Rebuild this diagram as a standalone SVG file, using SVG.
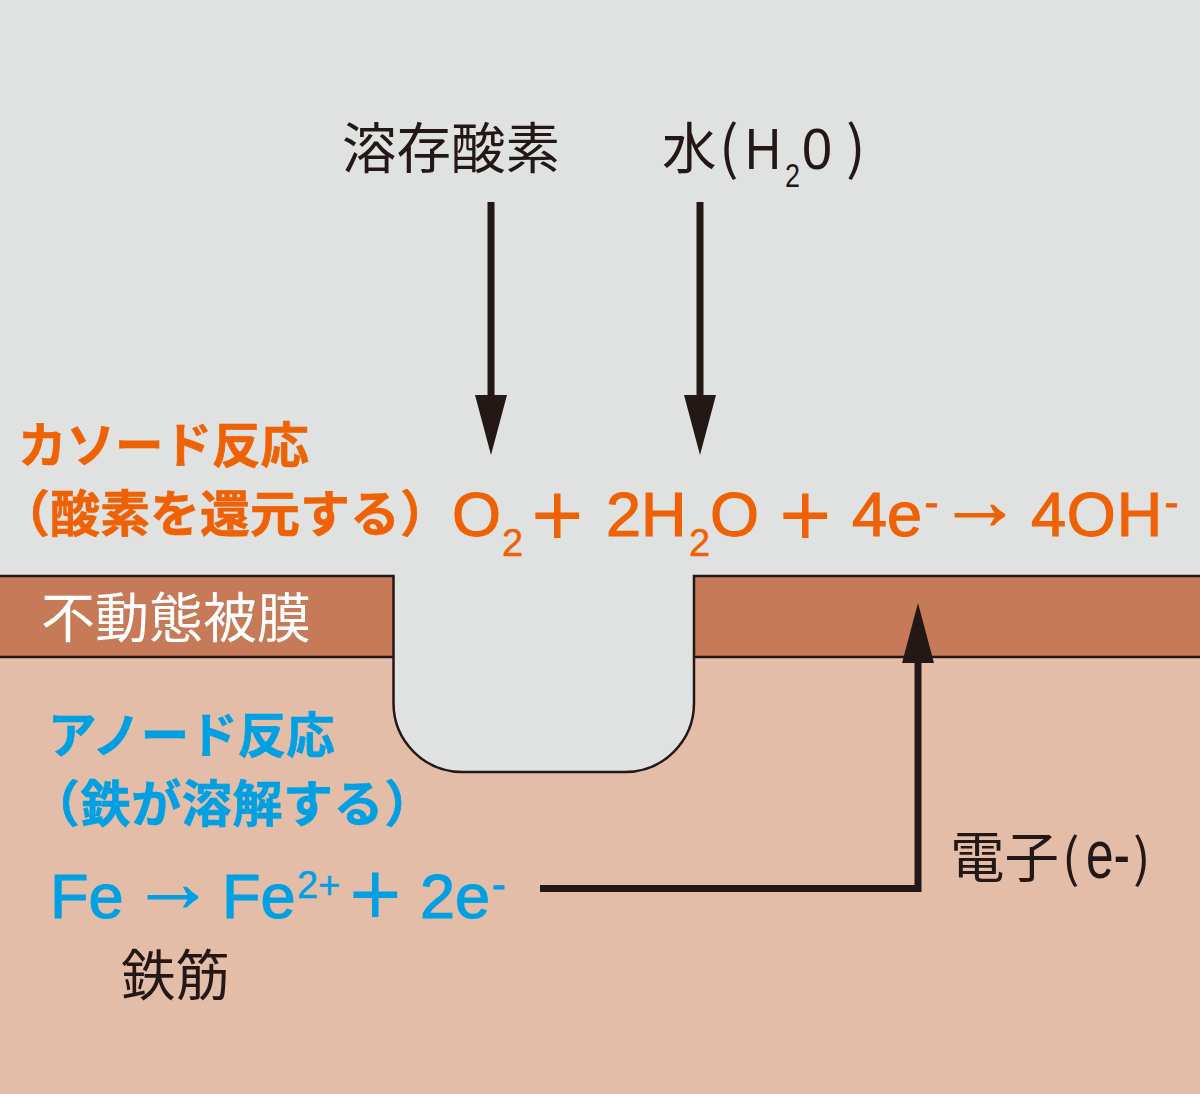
<svg xmlns="http://www.w3.org/2000/svg" width="1200" height="1094" viewBox="0 0 1200 1094">
<style>
.ja{font-family:"Noto Sans CJK JP","Noto Sans",sans-serif}
.k{fill:#231815;font-size:54.500px}
.b{font-weight:700;font-size:48.500px;stroke-width:.6}
.o{fill:#ee6205;stroke:#ee6205}
.c{fill:#00a0e3;stroke:#00a0e3}
.eq{font-family:"Liberation Sans",Arial,sans-serif;font-size:63px;stroke-width:1.200}
.sub{font-size:38px;stroke-width:.5}
.pl{font-size:90px;stroke:none}
.ar{font-size:84px;stroke-width:1}
.lat{font-family:"Liberation Sans",Arial,sans-serif}
.ln{fill:none;stroke:#231815;stroke-width:2.500}
</style>
<defs><polygon id="head" points="0,0 -16,-60 16,-60" fill="#231815"/></defs>
<rect width="1200" height="1094" fill="#e0e2e1"/>
<g id="steel">
<path d="M0,657H393.500V703A69,69 0 0 0 462.500,772H625A69,69 0 0 0 694,703V657H1200V1094H0Z" fill="#e4bda9"/>
</g>
<g id="film">
<rect x="0" y="576" width="393.500" height="81" fill="#c67a58"/>
<rect x="694" y="576" width="506" height="81" fill="#c67a58"/>
<path class="ln" d="M0,576H393.500V703A69,69 0 0 0 462.500,772H625A69,69 0 0 0 694,703V576H1200"/>
<path class="ln" d="M0,657H393.500M694,657H1200"/>
<text class="ja" x="41" y="638" font-size="54" fill="#fff">不動態被膜</text>
</g>
<g id="connectors">
<rect x="487.500" y="202" width="7" height="200" fill="#231815"/>
<use href="#head" x="491" y="455"/>
<rect x="696.500" y="202" width="7" height="200" fill="#231815"/>
<use href="#head" x="700" y="455"/>
<path d="M540,888.500H918V655" fill="none" stroke="#231815" stroke-width="7"/>
<polygon points="918,603 902,663 934,663" fill="#231815"/>
</g>
<g id="oxygen"><text class="ja k" x="342" y="168">溶存酸素</text></g>
<g id="water"><text class="ja k" x="662" y="168">水</text>
<text class="lat" y="169" font-size="58" fill="#231815"><tspan x="719" class="ja">(</tspan><tspan x="745" textLength="36" lengthAdjust="spacingAndGlyphs">H</tspan><tspan x="785" y="187" font-size="34" textLength="15" lengthAdjust="spacingAndGlyphs">2</tspan><tspan x="802" y="169" textLength="30" lengthAdjust="spacingAndGlyphs">0</tspan><tspan x="846" class="ja">)</tspan></text></g>
<g id="cathode">
<text class="ja b o" x="18" y="463">カソード反応</text>
<text class="ja b o" x="0" y="532" style="font-size:50px">（酸素を還元する）</text>
<text class="eq o" y="536"><tspan x="452">O</tspan><tspan x="502" y="556" class="sub">2</tspan><tspan x="531" y="546" class="pl">+</tspan><tspan x="606" y="536">2H</tspan><tspan x="689" y="556" class="sub">2</tspan><tspan x="710" y="536">O</tspan><tspan x="779" y="546" class="pl">+</tspan><tspan x="852" y="536">4e</tspan><tspan x="925" y="516" font-size="40">-</tspan><tspan x="938" y="529" class="ar">→</tspan><tspan x="1031" y="536" letter-spacing=".8">4OH</tspan><tspan x="1165" y="516" font-size="40">-</tspan></text>
</g>
<g id="anode">
<text class="ja b c" x="48" y="753">アノード反応</text>
<text class="ja b c" x="30" y="822" style="font-size:50px;letter-spacing:.6px">（鉄が溶解する）</text>
<text class="eq c" y="918"><tspan x="50">Fe</tspan><tspan x="131" y="911" class="ar">→</tspan><tspan x="222" y="918">Fe</tspan><tspan x="297" y="898" font-size="38" stroke-width=".5">2+</tspan><tspan x="349" y="925" class="pl">+</tspan><tspan x="420" y="918">2e</tspan><tspan x="492" y="898" font-size="40">-</tspan></text>
</g>
<g id="electron"><text class="ja k" x="950" y="877">電子</text>
<text class="ja" x="1062" y="877" font-size="52" fill="#231815">(</text>
<text class="lat" transform="translate(1086,878) scale(.73,1)" font-size="68" fill="#231815">e-</text>
<text class="ja" x="1133" y="877" font-size="52" fill="#231815">)</text></g>
<g id="rebar"><text class="ja k" x="121" y="995">鉄筋</text></g>
</svg>
